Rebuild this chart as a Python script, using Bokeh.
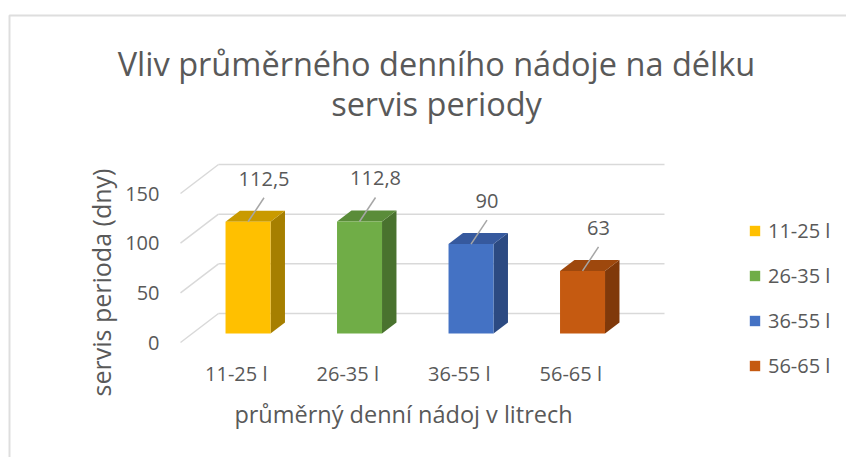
import numpy as np
from bokeh.plotting import figure
from bokeh.models import Range1d, FixedTicker, Label, Legend, LegendItem
from bokeh.core.properties import value
from bokeh.embed import file_html
from bokeh.resources import INLINE

# ---- data ----
categories = ["11-25 l", "26-35 l", "36-55 l", "56-65 l"]
values = [112.5, 112.8, 90, 63]
value_labels = ["112,5", "112,8", "90", "63"]
y_ticks = [0, 50, 100, 150]
front_colors = ["#FFC000", "#70AD47", "#4472C4", "#C55A11"]
top_colors = ["#C99A00", "#5A8C39", "#36599E", "#9E480D"]
side_colors = ["#A67F00", "#49722E", "#2C4A82", "#80390A"]
title_lines = ["Vliv průměrného denního nádoje na délku", "servis periody"]
x_title = "průměrný denní nádoj v litrech"
y_title = "servis perioda (dny)"

FONT = "Open Sans"
TEXT = "#595959"
GRID = "#D9D9D9"

# ---- geometry (page pixels -> data) ----
PX_X = 111.5          # px per category
PX_Y = 149.0 / 150.0  # px per value unit
X0, Y0 = 180.0, 342.0 # page px of data (0, 0) on the front plane
W_FIG, H_FIG = 846, 457

def px_x(px):
    return (px - X0) / PX_X

def px_y(py):
    return (Y0 - py) / PX_Y

DX = 38.0 / PX_X      # depth offset (x)
DY = 29.0 / PX_Y      # depth offset (y)
F0, F1 = 0.31, 0.69   # bar front/back depth fractions
W = 45.0 / PX_X       # bar width

n = len(categories)
vals = np.array(values, dtype=float)
xc = np.arange(n) + 0.5

p = figure(width=W_FIG, height=H_FIG, title=None,
           x_range=Range1d(px_x(0), px_x(W_FIG)),
           y_range=Range1d(px_y(H_FIG), px_y(0)),
           min_border_left=0, min_border_right=0,
           min_border_top=0, min_border_bottom=0,
           output_backend="svg", toolbar_location=None)
p.outline_line_color = None
p.grid.visible = False
p.background_fill_color = "white"
p.border_fill_color = "white"

# ---- chart area border (left + top) ----
p.line(x=[px_x(9), px_x(9), px_x(W_FIG)], y=[px_y(H_FIG), px_y(15), px_y(15)],
       line_color="#DEDEDE", line_width=2)

# ---- walls / gridlines ----
yt_arr = np.array(y_ticks, dtype=float)
p.multi_line(xs=[[DX, n + DX] for _ in y_ticks],
             ys=[[v + DY, v + DY] for v in yt_arr],
             line_color=GRID, line_width=1.5)
p.multi_line(xs=[[0, DX] for _ in y_ticks],
             ys=[[v, v + DY] for v in yt_arr],
             line_color=GRID, line_width=1.5)

# ---- 3D bars ----
xl = xc - W / 2 + F0 * DX
xr = xc + W / 2 + F0 * DX
yb = np.full(n, F0 * DY)
yt = vals + F0 * DY
ddx = (F1 - F0) * DX
ddy = (F1 - F0) * DY

p.patches(xs=[[a, a + ddx, a + ddx, a] for a in xr],
          ys=[[b, b + ddy, t + ddy, t] for b, t in zip(yb, yt)],
          fill_color=side_colors, line_color=None)
p.patches(xs=[[l, r, r + ddx, l + ddx] for l, r in zip(xl, xr)],
          ys=[[t, t, t + ddy, t + ddy] for t in yt],
          fill_color=top_colors, line_color=None)
front = p.quad(left=xl, right=xr, bottom=yb, top=yt,
               fill_color=front_colors, line_color=None)

# ---- data labels with leader lines ----
lx0 = xc + F0 * DX
ly0 = yt
lx1 = lx0 + 16.0 / PX_X
ly1 = ly0 + 24.0 / PX_Y
p.segment(x0=lx0, y0=ly0, x1=lx1, y1=ly1, line_color="#A6A6A6", line_width=1.5)
p.text(x=lx1, y=ly1 + 19.0 / PX_Y, text=value_labels,
       text_align="center", text_baseline="middle",
       text_font=value(FONT), text_font_size="20px", text_color=TEXT)

# ---- axes (fixed inside the chart area) ----
p.xaxis.ticker = FixedTicker(ticks=list(xc))
p.xaxis.major_label_overrides = {float(x): c for x, c in zip(xc, categories)}
p.yaxis.ticker = FixedTicker(ticks=y_ticks)
p.xaxis.fixed_location = px_y(345)
p.yaxis.fixed_location = px_x(178)
for ax in (p.xaxis, p.yaxis):
    ax.axis_line_color = None
    ax.major_tick_line_color = None
    ax.minor_tick_line_color = None
    ax.major_tick_out = 0
    ax.major_tick_in = 0
    ax.major_label_text_font = FONT
    ax.major_label_text_font_size = "20px"
    ax.major_label_text_color = TEXT
p.xaxis.major_label_standoff = 14
p.yaxis.major_label_standoff = 19

# ---- titles ----
def add_label(text, px, py, size, angle=0.0):
    p.add_layout(Label(x=px_x(px), y=px_y(py), text=text, angle=angle,
                       text_align="center", text_baseline="middle",
                       text_font=FONT, text_font_size=size, text_color=TEXT))

add_label(title_lines[0], 436, 63, "32.5px")
add_label(title_lines[1], 436, 103, "32.5px")
add_label(x_title, 403, 413, "23.5px")
add_label(y_title, 100, 282, "25px", angle=np.pi / 2)

# ---- legend ----
items = [LegendItem(label=c, renderers=[front], index=i) for i, c in enumerate(categories)]
legend = Legend(items=items, location=(748, H_FIG - 379),
                glyph_width=13, glyph_height=13, label_standoff=7,
                spacing=18, padding=0, margin=0,
                border_line_color=None, background_fill_alpha=0,
                label_text_font=FONT, label_text_font_size="20px",
                label_text_color=TEXT)
p.add_layout(legend)

open("out.html", "w").write(file_html(p, INLINE))
